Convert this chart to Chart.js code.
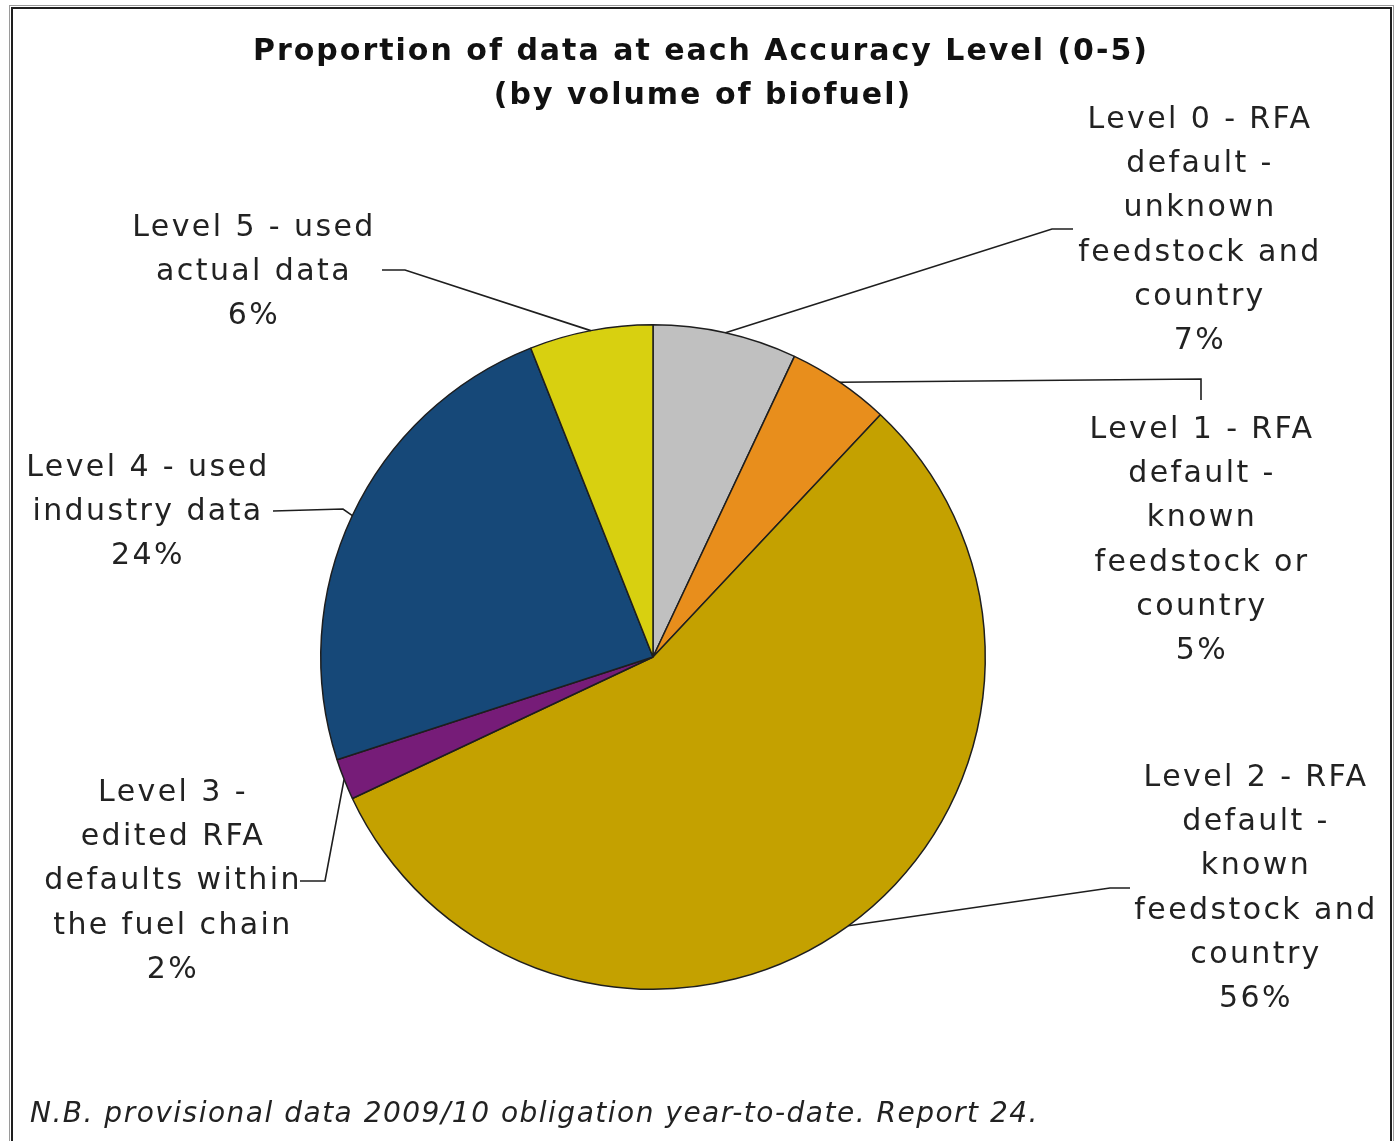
<!DOCTYPE html>
<html>
<head>
<meta charset="utf-8">
<script src="https://cdn.jsdelivr.net/npm/chart.js@4"></script>
<style>
  html, body { margin: 0; padding: 0; background: #fff; }
  #wrap { width: 1397px; height: 1141px; position: relative; }
</style>
</head>
<body>
<div id="wrap"><canvas id="pie" width="1397" height="1141"></canvas></div>
<script>
// Accuracy levels and their share of biofuel volume (%)
const levels = [
  'Level 0 - RFA default - unknown feedstock and country',
  'Level 1 - RFA default - known feedstock or country',
  'Level 2 - RFA default - known feedstock and country',
  'Level 3 - edited RFA defaults within the fuel chain',
  'Level 4 - used industry data',
  'Level 5 - used actual data'
];
const shares = [7, 5, 56, 2, 24, 6];
const sliceColors = ['#c0c0c0', '#e88e1c', '#c4a100', '#761c78', '#164878', '#d8d010'];

// Wrapped label lines (percentage appended from the data)
const labelLines = [
  ['Level 0 - RFA', 'default -', 'unknown', 'feedstock and', 'country'],
  ['Level 1 - RFA', 'default -', 'known', 'feedstock or', 'country'],
  ['Level 2 - RFA', 'default -', 'known', 'feedstock and', 'country'],
  ['Level 3 -', 'edited RFA', 'defaults within', 'the fuel chain'],
  ['Level 4 - used', 'industry data'],
  ['Level 5 - used', 'actual data']
];

const titleLines = ['Proportion of data at each Accuracy Level (0-5)', '(by volume of biofuel)'];
const footnote = 'N.B. provisional data 2009/10 obligation year-to-date. Report 24.';

// Label placement: text block centre x, first line centre y,
// leader elbow point and leader end point
const labelLayout = [
  { cx: 1199, y0: 120, elbow: [1052, 229], end: [1073, 229] },
  { cx: 1201, y0: 430, elbow: [1201, 379], end: [1201, 400] },
  { cx: 1255, y0: 778, elbow: [1110, 888], end: [1130, 888] },
  { cx: 172,  y0: 793, elbow: [325, 881],  end: [300, 881] },
  { cx: 147,  y0: 468, elbow: [343, 509],  end: [273, 511] },
  { cx: 253,  y0: 228, elbow: [405, 270],  end: [382, 270] }
];
const lineGap = 44.3;
const FONT = '"DejaVu Sans", Verdana, sans-serif';

const decorations = {
  id: 'decorations',
  afterDatasetsDraw(chart) {
    const ctx = chart.ctx;
    const arcs = chart.getDatasetMeta(0).data;
    ctx.save();

    // outer frame
    ctx.strokeStyle = '#9a9a9a';
    ctx.lineWidth = 1;
    ctx.strokeRect(9.5, 5.5, 1384, 1150);
    ctx.strokeStyle = '#1e1e1e';
    ctx.lineWidth = 2;
    ctx.strokeRect(12, 8, 1379, 1150);

    // title
    ctx.fillStyle = '#111';
    ctx.textAlign = 'center';
    ctx.textBaseline = 'middle';
    ctx.font = 'bold 30px ' + FONT;
    ctx.letterSpacing = '2px';
    ctx.fillText(titleLines[0], 701, 52);
    ctx.fillText(titleLines[1], 703, 96);

    // leader lines from each slice's mid-arc
    ctx.strokeStyle = '#1e1e1e';
    ctx.lineWidth = 1.6;
    arcs.forEach((arc, i) => {
      const p = arc.getProps(['x', 'y', 'startAngle', 'endAngle', 'outerRadius'], true);
      const mid = (p.startAngle + p.endAngle) / 2;
      const sx = p.x + Math.cos(mid) * p.outerRadius;
      const sy = p.y + Math.sin(mid) * p.outerRadius;
      const L = labelLayout[i];
      ctx.beginPath();
      ctx.moveTo(sx, sy);
      ctx.lineTo(L.elbow[0], L.elbow[1]);
      ctx.lineTo(L.end[0], L.end[1]);
      ctx.stroke();
    });

    // labels
    ctx.fillStyle = '#222';
    ctx.font = '30px ' + FONT;
    ctx.letterSpacing = '2.4px';
    labelLines.forEach((lines, i) => {
      const L = labelLayout[i];
      const all = lines.concat([shares[i] + '%']);
      all.forEach((t, k) => ctx.fillText(t, L.cx + 1, L.y0 + k * lineGap));
    });

    // footnote
    ctx.textAlign = 'left';
    ctx.font = 'italic 28px ' + FONT;
    ctx.letterSpacing = '1.5px';
    ctx.fillStyle = '#222';
    ctx.fillText(footnote, 30, 1115);

    ctx.restore();
  }
};

new Chart(document.getElementById('pie'), {
  type: 'pie',
  data: {
    labels: levels,
    datasets: [{
      data: shares,
      backgroundColor: sliceColors,
      borderColor: '#1e1e1e',
      borderWidth: 1.5
    }]
  },
  options: {
    responsive: false,
    animation: false,
    layout: { padding: { left: 320, right: 411, top: 324, bottom: 151 } },
    plugins: {
      legend: { display: false },
      tooltip: { enabled: false },
      title: { display: false }
    }
  },
  plugins: [decorations]
});
</script>
</body>
</html>
